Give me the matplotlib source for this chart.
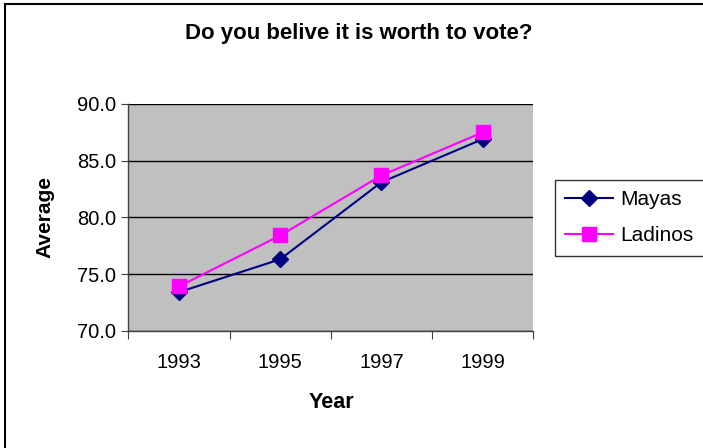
import matplotlib
matplotlib.use("Agg")
import matplotlib.pyplot as plt
from matplotlib.patches import Rectangle

years = ["1993", "1995", "1997", "1999"]
mayas = [73.4, 76.3, 83.1, 86.9]
ladinos = [73.9, 78.4, 83.7, 87.5]
yticks = [70.0, 75.0, 80.0, 85.0, 90.0]

plt.rcParams['font.family'] = ['Liberation Sans', 'DejaVu Sans']

W, H = 703, 448
fig = plt.figure(figsize=(W/100, H/100), dpi=100)
fig.patch.set_facecolor('white')

# outer border
fig.patches.append(Rectangle((5/W, -0.1), 1.2, 1 + 0.1 - 4/H, transform=fig.transFigure,
                             fill=False, edgecolor='black', linewidth=1.5))

left, right, top, bottom = 128.3, 533.3, 104, 330.7
ax = fig.add_axes([left/W, 1 - bottom/H, (right-left)/W, (bottom-top)/H])
ax.set_facecolor('#C0C0C0')

x = list(range(len(years)))
ax.plot(x, mayas, color='#000080', marker='D', markersize=8, linewidth=1.5, label='Mayas')
ax.plot(x, ladinos, color='#FF00FF', marker='s', markersize=9.5, linewidth=1.5, label='Ladinos')

ax.set_xlim(-0.5, len(years) - 0.5)
ax.set_ylim(70, 90)
ax.set_yticks(yticks)
ax.set_yticklabels([f"{v:.1f}" for v in yticks], fontsize=14.5)
ax.set_xticks([i + 0.5 for i in range(-1, len(years))], minor=False)
ax.set_xticklabels([])
ax.set_xticks(x, minor=True)
ax.set_xticklabels(years, minor=True, fontsize=14.5)
ax.tick_params(axis='x', which='major', length=6, direction='out', color='#404040')
ax.tick_params(axis='x', which='minor', length=0, pad=16)
ax.tick_params(axis='y', length=5, direction='out', color='#404040', pad=4)
ax.yaxis.grid(True, color='black', linewidth=1)
ax.set_axisbelow(True)
for s in ['top', 'right']:
    ax.spines[s].set_visible(False)
for s in ['left', 'bottom']:
    ax.spines[s].set_color('#404040')
    ax.spines[s].set_linewidth(1)

fig.text(359/W, 1 - 33/H, "Do you belive it is worth to vote?", ha='center', va='center',
         fontsize=16, fontweight='bold')
fig.text(331/W, 1 - 402/H, "Year", ha='center', va='center', fontsize=15.5, fontweight='bold')
fig.text(45/W, 1 - 217/H, "Average", ha='center', va='center', rotation=90,
         fontsize=15, fontweight='bold')

leg = fig.legend(loc='upper left', bbox_to_anchor=(555/W, 1 - 180/H), fontsize=15,
                 frameon=True, fancybox=False, edgecolor='black', handlelength=2.3,
                 borderpad=0.5, labelspacing=0.8, handletextpad=0.35, borderaxespad=0)
leg.get_frame().set_linewidth(1)

fig.savefig('out.png', dpi=100)
